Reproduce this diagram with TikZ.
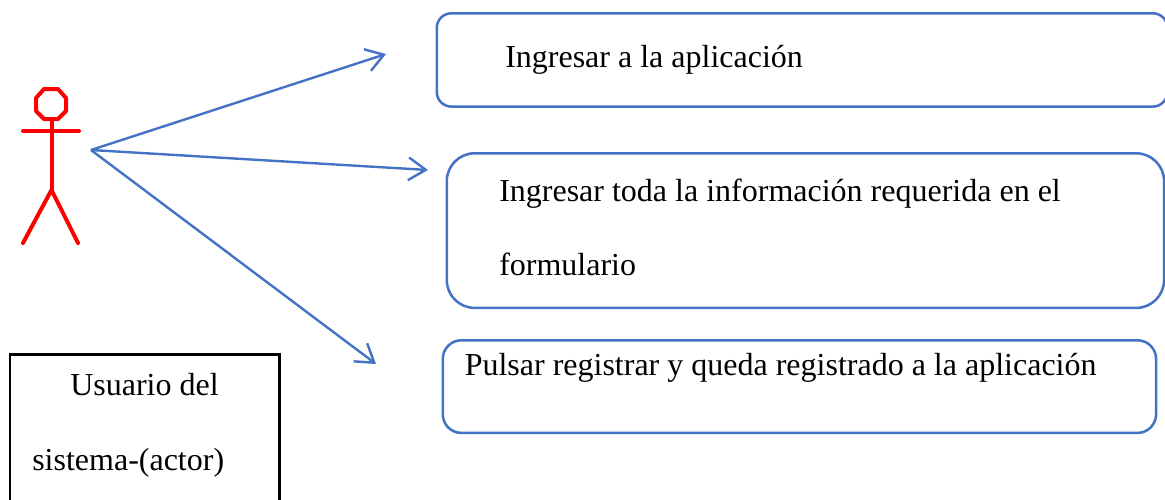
\documentclass[tikz,border=0pt]{standalone}
\usepackage{fontspec}
\setmainfont{Liberation Serif}
\usetikzlibrary{arrows.meta}
\definecolor{wblue}{HTML}{4472C4}
\tikzset{
  x=0.75pt,y=-0.75pt,
  usecase/.style={draw=wblue,line width=1.9pt,rounded corners=#1,inner sep=0pt,anchor=north west},
  label/.style={font=\fontsize{24pt}{28pt}\selectfont,anchor=base west,inner sep=0pt,text=black},
  conn/.style={draw=wblue,line width=1.8pt,-{Straight Barb[length=13pt,width=17pt,line width=1.8pt]}},
  limb/.style={draw=red,line width=3pt,line cap=round,line join=round},
  caption/.style={draw=black,line width=2pt,inner sep=0pt,anchor=north west}
}
\begin{document}
\begin{tikzpicture}
\path[use as bounding box] (0,0) rectangle (1165,500);
\clip (0,0) rectangle (1165,500);
% use-case boxes
\node[usecase=11pt,minimum width=548pt,minimum height=70pt] (b1) at (435.5,12) {};
\node[usecase=21pt,minimum width=538pt,minimum height=116pt] (b2) at (445.5,152) {};
\node[usecase=14pt,minimum width=535pt,minimum height=69.5pt] (b3) at (441.5,339) {};
\node[caption,minimum width=202pt,minimum height=120pt] (cap) at (8.5,353) {};
% texts
\node[label] (t1) at (505,67) {Ingresar a la aplicación};
\node[label] (t2a) at (499,201) {Ingresar toda la información requerida en el};
\node[label] (t2b) at (499,275) {formulario};
\node[label] (t3) at (464.5,375) {Pulsar registrar y queda registrado a la aplicación};
\node[label] (t4a) at (70,395) {Usuario del};
\node[label] (t4b) at (32,470) {sistema-(actor)};
% actor
\draw[limb] (36,98) -- (44,89) -- (58,89) -- (66,98) -- (66,111) -- (58,119) -- (44,119) -- (36,111) -- cycle;
\coordinate (neck) at (51.5,119);
\coordinate (hip) at (51.5,190);
\coordinate (armL) at (23,131);
\coordinate (armR) at (79,131);
\coordinate (legL) at (23,243);
\coordinate (legR) at (78,243);
\draw[limb] (neck) -- (hip);
\draw[limb] (armL) -- (armR);
\draw[limb] (legL) -- (hip) -- (legR);
% connectors
\coordinate (src) at (91,150);
\coordinate (e1) at (386,54);
\coordinate (e2) at (428,170);
\coordinate (e3) at (376,364);
\draw[conn] (src) -- (e1);
\draw[conn] (src) -- (e2);
\draw[conn] (src) -- (e3);
\end{tikzpicture}
\end{document}
